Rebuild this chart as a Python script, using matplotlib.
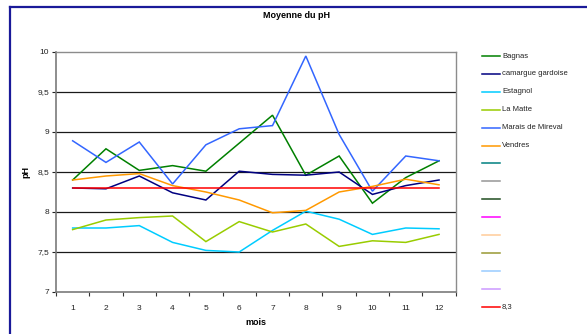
import matplotlib
matplotlib.use("Agg")
import matplotlib.pyplot as plt
from matplotlib.lines import Line2D

plt.rcParams['font.family'] = ['Liberation Sans', 'DejaVu Sans']

months = list(range(1, 13))
month_labels = [str(m) for m in months]

bagnas = [8.40, 8.79, 8.52, 8.58, 8.51, 8.86, 9.21, 8.46, 8.70, 8.11, 8.43, 8.64]
camargue = [8.30, 8.29, 8.45, 8.24, 8.15, 8.51, 8.47, 8.46, 8.50, 8.22, 8.33, 8.40]
estagnol = [7.80, 7.80, 7.83, 7.62, 7.52, 7.50, 7.77, 8.01, 7.91, 7.72, 7.80, 7.79]
la_matte = [7.78, 7.90, 7.93, 7.95, 7.63, 7.88, 7.75, 7.85, 7.57, 7.64, 7.62, 7.72]
mireval = [8.89, 8.62, 8.875, 8.35, 8.84, 9.04, 9.08, 9.95, 8.97, 8.26, 8.70, 8.64]
vendres = [8.40, 8.45, 8.48, 8.33, 8.25, 8.15, 7.99, 8.02, 8.25, 8.32, 8.41, 8.34]
reference = 8.3

series_names = ["Bagnas", "camargue gardoise", "Estagnol", "La Matte",
                "Marais de Mireval", "Vendres"]
series_values = [bagnas, camargue, estagnol, la_matte, mireval, vendres]
series_colors = ["#008000", "#000080", "#00ccff", "#99cc00", "#3366ff", "#ff9900"]

# empty series kept in the legend
empty_colors = ["#008080", "#969696", "#1f4d1f", "#ff00ff", "#ffcc99",
                "#999933", "#99ccff", "#cc99ff"]
ref_label = "8,3"
ref_color = "#ff0000"

y_ticks = [7, 7.5, 8, 8.5, 9, 9.5, 10]
y_tick_labels = ["7", "7,5", "8", "8,5", "9", "9,5", "10"]

W, H = 587, 334
fig = plt.figure(figsize=(W / 100, H / 100), dpi=100)
fig.patch.set_facecolor("white")

ax = fig.add_axes([56 / W, 1 - 292 / H, (455.7 - 56) / W, (292 - 52) / H])

for yv in y_ticks[1:-1]:
    ax.axhline(yv, color="#1a1a1a", lw=0.9, zorder=1)

for vals, col in zip(series_values, series_colors):
    ax.plot(months, vals, color=col, lw=1.1, zorder=3, solid_joinstyle="miter")
ax.plot(months, [reference] * len(months), color=ref_color, lw=1.1, zorder=4)

ax.set_xlim(0.5, 12.5)
ax.set_ylim(7, 10)
ax.set_yticks(y_ticks)
ax.set_yticklabels(y_tick_labels)
ax.set_xticks(months)
ax.set_xticklabels(month_labels)
ax.set_xticks([m + 0.5 for m in range(0, 13)], minor=True)
ax.tick_params(axis="x", which="major", length=0, labelsize=6, pad=9, colors="#222222")
ax.tick_params(axis="x", which="minor", length=3, width=0.8, direction="out", color="#333333")
ax.tick_params(axis="y", length=3, width=0.8, labelsize=6, pad=2, colors="#222222")

for side in ["left", "bottom"]:
    ax.spines[side].set_color("#7a7a7a")
    ax.spines[side].set_linewidth(1.2)
for side in ["top", "right"]:
    ax.spines[side].set_color("#8c8c8c")
    ax.spines[side].set_linewidth(1.0)

ax.set_xlabel("mois", fontsize=6.5, fontweight="bold", labelpad=5)
ax.set_ylabel("pH", fontsize=6.5, fontweight="bold", labelpad=5)

fig.text(297 / W, 1 - 16 / H, "Moyenne du pH", ha="center", va="center",
         fontsize=6.5, fontweight="bold")

# legend column
legend_labels = series_names + [""] * len(empty_colors) + [ref_label]
legend_colors = series_colors + empty_colors + [ref_color]
y0, dy = 56, 17.9
for i, (lab, col) in enumerate(zip(legend_labels, legend_colors)):
    yy = 1 - (y0 + i * dy) / H
    fig.add_artist(Line2D([482 / W, 500 / W], [yy, yy], color=col, lw=1.1,
                          transform=fig.transFigure))
    if lab:
        fig.text(502 / W, yy, lab, ha="left", va="center", fontsize=5.5,
                 color="#222222")

# chart frame
frame_color = "#1a1a99"
fig.add_artist(Line2D([10 / W, 10 / W], [0, 1 - 7 / H], color=frame_color,
                      lw=1.6, transform=fig.transFigure))
fig.add_artist(Line2D([10 / W, 1], [1 - 7 / H, 1 - 7 / H], color=frame_color,
                      lw=1.6, transform=fig.transFigure))

fig.savefig("out.png", dpi=100)
